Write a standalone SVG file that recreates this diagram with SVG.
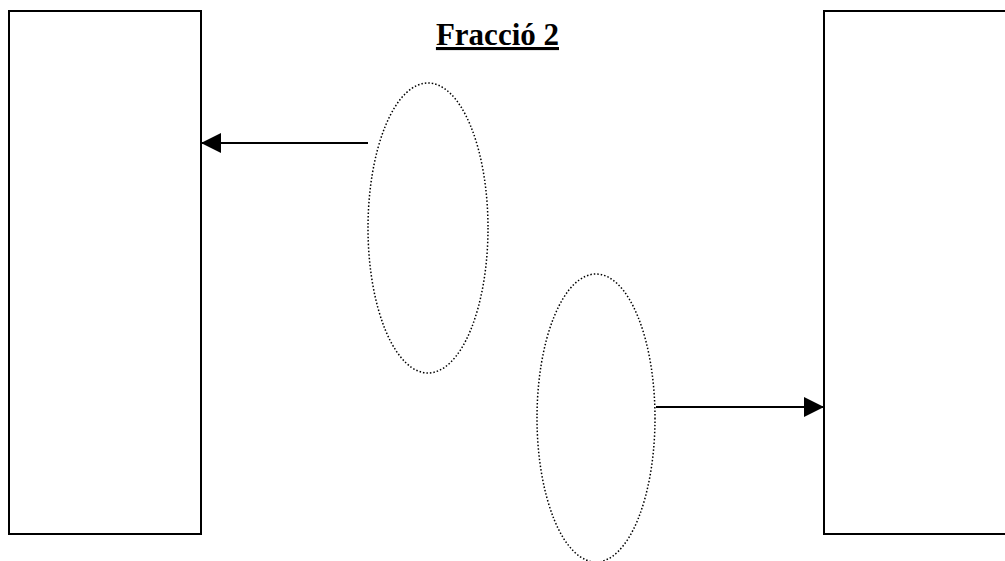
<svg xmlns="http://www.w3.org/2000/svg" width="1005" height="561" viewBox="0 0 1005 561">
<style>
.box{fill:#fff;stroke:#000;stroke-width:2}
.ell{fill:none;stroke:#000;stroke-width:1.5;stroke-dasharray:1.5 2}
.conn{stroke:#000;stroke-width:2;fill:none}
.title{font-family:"Liberation Serif","Times New Roman",serif;font-weight:bold;font-size:31px;text-decoration:underline}
</style>
<defs>
<marker id="ahb" viewBox="0 0 20 20" refX="20" refY="10" markerWidth="20" markerHeight="20" markerUnits="userSpaceOnUse" orient="auto">
<path d="M0,0 L20,10 L0,20 z" fill="#000"/>
</marker>
</defs>
<rect width="1005" height="561" fill="#fff"/>
<g id="box-left"><rect class="box" x="9" y="11" width="192" height="523"/></g>
<g id="box-right"><rect class="box" x="824" y="11" width="200" height="523"/></g>
<g id="ellipse-1"><ellipse class="ell" cx="428" cy="228" rx="60" ry="145"/></g>
<g id="ellipse-2"><ellipse class="ell" cx="596" cy="418" rx="59" ry="144"/></g>
<g id="title"><text class="title" x="559" y="45" text-anchor="end">Fracció 2</text></g>
<g id="connectors">
<line class="conn" x1="368" y1="143" x2="201" y2="143" marker-end="url(#ahb)"/>
<line class="conn" x1="656" y1="407" x2="824" y2="407" marker-end="url(#ahb)"/>
</g>
</svg>
